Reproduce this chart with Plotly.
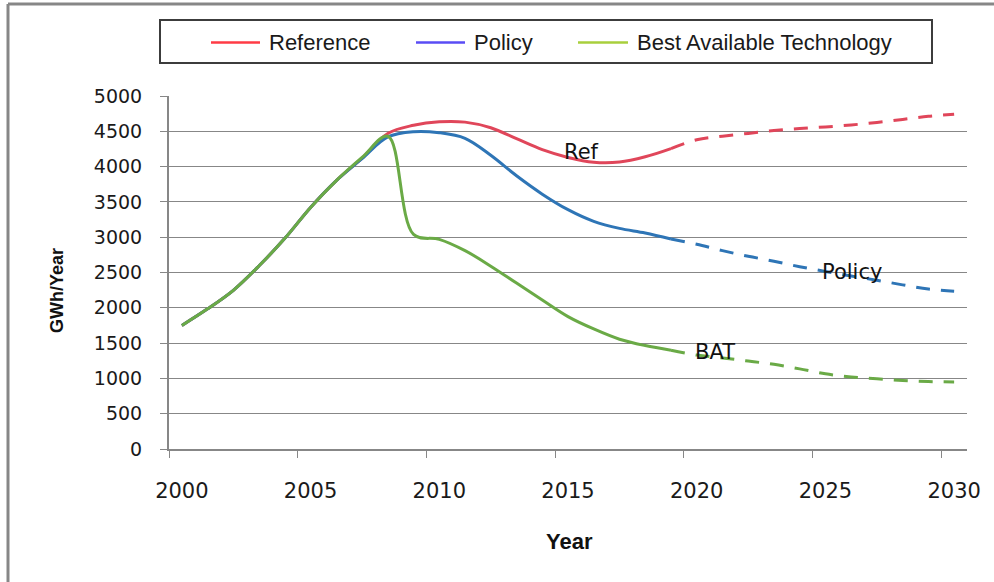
import plotly.graph_objects as go

# ---------------- data ----------------
years_solid = list(range(2000, 2020))          # 2000..2019 (solid part)
years_dash = list(range(2019, 2031))           # 2019..2030 (projected, dashed)

ref_solid = [1750, 1985, 2248, 2595, 2984, 3422, 3802, 4120, 4470, 4585,
             4635, 4630, 4550, 4395, 4240, 4130, 4062, 4065, 4139, 4255]
ref_dash = [4255, 4380, 4430, 4470, 4510, 4538, 4562, 4590, 4625, 4668, 4712, 4742]

pol_solid = [1750, 1985, 2248, 2595, 2984, 3422, 3802, 4113, 4420, 4495,
             4480, 4400, 4160, 3870, 3610, 3390, 3225, 3125, 3060, 2975]
pol_dash = [2975, 2900, 2810, 2730, 2660, 2582, 2515, 2450, 2390, 2325, 2265, 2235]

bat_solid = [1750, 1985, 2248, 2595, 2984, 3422, 3802, 4130, 4430, 3040,
             2970, 2810, 2590, 2350, 2110, 1875, 1700, 1555, 1465, 1400]
bat_dash = [1400, 1330, 1290, 1245, 1200, 1135, 1065, 1020, 995, 970, 955, 950]

x_tick_labels = [2000, 2005, 2010, 2015, 2020, 2025, 2030]
y_ticks = list(range(0, 5001, 500))

series_names = ["Reference", "Policy", "Best Available Technology"]
line_colors = ["#E0465A", "#2E75B6", "#6AAA46"]
legend_colors = ["#FF3B45", "#5A4CF5", "#A8CF3C"]

# ---------------- layout geometry (pixels) ----------------
W, H = 994, 582
PL, PR, PT, PB = 169, 967, 96, 449


def px(xp):
    return (xp - PL) / (PR - PL)


def py(yp):
    return (PB - yp) / (PB - PT)


fig = go.Figure()

solid = [(years_solid, ref_solid), (years_solid, pol_solid), (years_solid, bat_solid)]
dashed = [(years_dash, ref_dash), (years_dash, pol_dash), (years_dash, bat_dash)]

for (xs, ys), name, col in zip(solid, series_names, line_colors):
    fig.add_trace(go.Scatter(x=xs, y=ys, mode="lines", name=name, showlegend=False,
                             line=dict(color=col, width=3, shape="spline", smoothing=1.0)))
for (xs, ys), name, col in zip(dashed, series_names, line_colors):
    fig.add_trace(go.Scatter(x=xs, y=ys, mode="lines", name=name + " (projection)",
                             showlegend=False,
                             line=dict(color=col, width=3, shape="spline", smoothing=1.0,
                                       dash="14px,11px")))

grid_col = "#878787"
fig.update_layout(
    width=W, height=H, autosize=False,
    margin=dict(l=PL, r=W - PR, t=PT, b=H - PB, pad=0),
    paper_bgcolor="white", plot_bgcolor="white",
    showlegend=False,
    xaxis=dict(
        range=[1999.5, 2030.5], showgrid=False, zeroline=False,
        showline=True, linecolor=grid_col, linewidth=1.5,
        tickmode="array", tickvals=x_tick_labels,
        ticktext=[str(v) for v in x_tick_labels],
        ticks="", ticklabelstandoff=22,
        tickfont=dict(family="DejaVu Sans", size=21, color="#1a1a1a"),
        minor=dict(tickmode="array", tickvals=[v - 0.5 for v in x_tick_labels],
                   ticks="outside", ticklen=7, tickcolor=grid_col, tickwidth=1.2,
                   showgrid=False),
    ),
    yaxis=dict(
        range=[0, 5000], tickmode="array", tickvals=y_ticks,
        showgrid=True, gridcolor=grid_col, gridwidth=1.3, zeroline=False,
        showline=True, linecolor=grid_col, linewidth=2,
        ticks="outside", ticklen=7, tickcolor=grid_col, tickwidth=1.2,
        ticklabelstandoff=14,
        tickfont=dict(family="DejaVu Sans", size=19, color="#1a1a1a"),
    ),
)

# axis titles
fig.add_annotation(text="<b>GWh/Year</b>", xref="paper", yref="paper",
                   x=px(57), y=py(291), textangle=-90, showarrow=False,
                   xanchor="center", yanchor="middle",
                   font=dict(family="Liberation Sans", size=18, color="#111"))
fig.add_annotation(text="<b>Year</b>", xref="paper", yref="paper",
                   x=px(569), y=py(541), showarrow=False,
                   xanchor="center", yanchor="middle",
                   font=dict(family="Liberation Sans", size=22, color="#111"))

# series labels
for txt, xv, yv in [("Ref", 2015.54, 4207), ("Policy", 2026.03, 2507), ("BAT", 2020.71, 1374)]:
    fig.add_annotation(text=txt, x=xv, y=yv, xref="x", yref="y", showarrow=False,
                       xanchor="center", yanchor="middle",
                       font=dict(family="DejaVu Sans", size=21, color="#111"))

# legend box (manual, to match the original's mismatched legend swatches)
shapes = []
shapes.append(dict(type="rect", xref="paper", yref="paper",
                   x0=px(160), x1=px(932), y0=py(63), y1=py(20),
                   line=dict(color="#3c3c3c", width=2), fillcolor="white", layer="above"))
leg_items = [(211, 260, 267), (416, 465, 472), (578, 628, 635)]
for (l0, l1, tx), name, col in zip(leg_items, series_names, legend_colors):
    shapes.append(dict(type="line", xref="paper", yref="paper",
                       x0=px(l0), x1=px(l1), y0=py(42.5), y1=py(42.5),
                       line=dict(color=col, width=2.5), layer="above"))
    fig.add_annotation(text=name, xref="paper", yref="paper", x=px(tx), y=py(43),
                       showarrow=False, xanchor="left", yanchor="middle",
                       font=dict(family="Liberation Sans", size=22, color="#1a1a1a"))

# outer chart-area border (top and left edges visible)
shapes.append(dict(type="line", xref="paper", yref="paper",
                   x0=px(8), x1=px(996), y0=py(4), y1=py(4),
                   line=dict(color="#878787", width=3), layer="above"))
shapes.append(dict(type="line", xref="paper", yref="paper",
                   x0=px(8), x1=px(8), y0=py(4), y1=py(585),
                   line=dict(color="#878787", width=3), layer="above"))
fig.update_layout(shapes=shapes)

fig.write_html("out.html", config={"displayModeBar": False},
               post_script="document.body.style.margin='0';document.body.style.overflow='hidden';")
